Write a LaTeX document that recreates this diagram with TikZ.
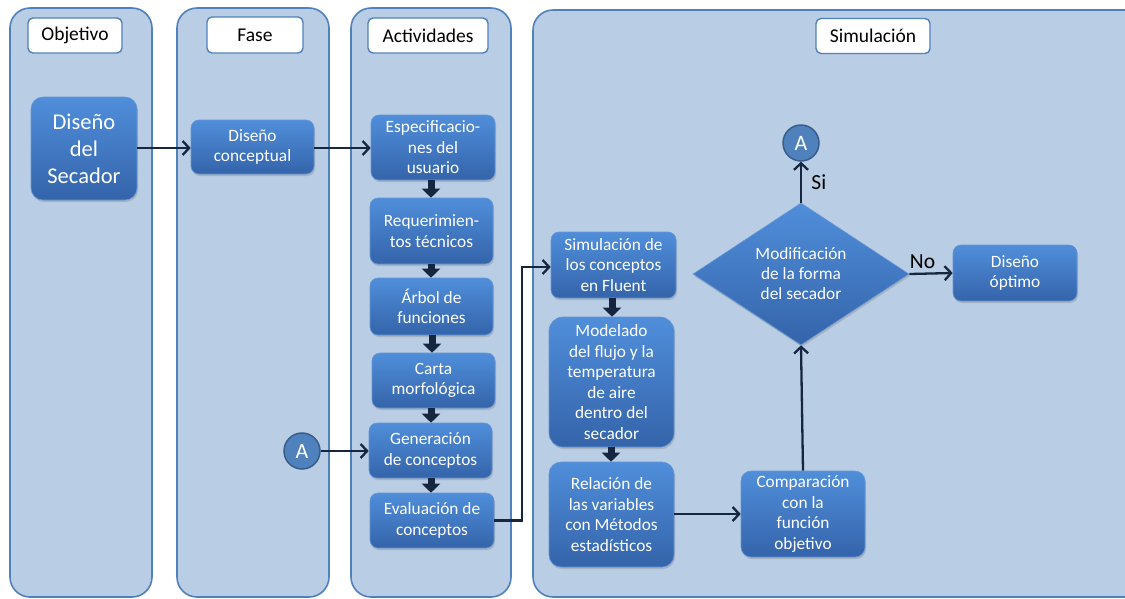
\documentclass[tikz,border=0pt]{standalone}
\usepackage{fontspec}
\setmainfont{Carlito}
\usetikzlibrary{arrows.meta,shapes.geometric,shadows,calc}
\definecolor{lanefill}{RGB}{185,205,228}
\definecolor{laneline}{RGB}{79,129,189}
\definecolor{boxtop}{RGB}{80,142,218}
\definecolor{boxbot}{RGB}{52,100,170}
\definecolor{boxline}{RGB}{100,150,215}
\definecolor{navy}{RGB}{23,38,64}
\definecolor{circfill}{RGB}{79,129,189}
\definecolor{circline}{RGB}{56,93,138}
\tikzset{
  lane/.style={fill=lanefill, draw=laneline, line width=1.6pt, rounded corners=20pt},
  head/.style={fill=white, draw=laneline, line width=1.4pt, rounded corners=5pt, inner sep=0pt, font=\fontsize{19.5}{22}\selectfont},
  bluebox/.style={rectangle, rounded corners=8pt, top color=boxtop, bottom color=boxbot, draw=boxline, line width=0.6pt,
    text=white, align=center, inner sep=2pt, font=\fontsize{17.3}{20.5}\selectfont,
    execute at begin node={\vspace*{4pt}},
    drop shadow={opacity=0.35, shadow xshift=1pt, shadow yshift=-2pt}},
  bigbox/.style={bluebox, rounded corners=12pt, font=\fontsize{22.5}{27}\selectfont},
  dec/.style={diamond, aspect=1.52, top color=boxtop, bottom color=boxbot, draw=boxline, line width=0.6pt,
    text=white, align=center, inner sep=0pt, font=\fontsize{17.3}{20}\selectfont,
    minimum width=216pt, minimum height=142pt,
    drop shadow={opacity=0.35, shadow xshift=1pt, shadow yshift=-2pt}},
  conn/.style={draw=navy, line width=2.3pt, -{Straight Barb[length=6.5pt,width=14pt,line width=2.3pt]}},
  blk/.style={draw=navy, line width=7pt, -{Triangle[width=18pt,length=9pt]}},
  circ/.style={circle, fill=circfill, draw=circline, line width=1.5pt, minimum size=36pt, inner sep=0pt,
    text=white, font=\fontsize{22}{24}\selectfont},
  lbl/.style={text=black, font=\fontsize{21.5}{24}\selectfont}
}
\begin{document}
\begin{tikzpicture}[x=1pt,y=-1pt]
\useasboundingbox (0,0) rectangle (1125,598);
\clip (0,0) rectangle (1125,598);
% lanes
\draw[lane] (10,8) rectangle (152,597);
\draw[lane] (177,8) rectangle (329,597);
\draw[lane] (351,8) rectangle (511,597);
\draw[lane] (533,10) rectangle (1160,597);
% headers
\node[head, minimum width=94pt, minimum height=35pt] (hobj) at (75,35.5) {Objetivo};
\node[head, minimum width=96pt, minimum height=36pt] (hfas) at (255,35) {Fase};
\node[head, minimum width=120pt, minimum height=35pt] (hact) at (428,35.5) {Actividades};
\node[head, minimum width=114pt, minimum height=35pt] (hsim) at (873,36) {Simulación};
% nodes
\node[bigbox, minimum width=106pt, minimum height=103pt] (sec) at (84,148.5) {Diseño\\del\\Secador};
\node[bluebox, minimum width=123pt, minimum height=54pt] (dc) at (252.5,147) {Diseño\\conceptual};
\node[bluebox, minimum width=124pt, minimum height=65pt] (esp) at (433,147.5) {Especificacio-\\nes del\\usuario};
\node[bluebox, minimum width=123pt, minimum height=66pt] (req) at (431.5,231) {Requerimien-\\tos técnicos};
\node[bluebox, minimum width=123pt, minimum height=57pt] (arb) at (431.5,306.5) {Árbol de\\funciones};
\node[bluebox, minimum width=123pt, minimum height=55pt] (car) at (433.5,380.5) {Carta\\morfológica};
\node[bluebox, minimum width=123pt, minimum height=55pt] (gen) at (430.5,450.5) {Generación\\de conceptos};
\node[bluebox, minimum width=124pt, minimum height=55pt] (eva) at (432,520.5) {Evaluación de\\conceptos};
\node[circ] (ain) at (302,451) {A};
\node[bluebox, minimum width=125pt, minimum height=66pt] (sim) at (613.5,265) {Simulación de\\los conceptos\\en Fluent};
\node[bluebox, minimum width=125pt, minimum height=130pt, rounded corners=14pt] (mod) at (611.5,382) {Modelado\\del flujo y la\\temperatura\\de aire\\dentro del\\secador};
\node[bluebox, minimum width=125pt, minimum height=105pt, rounded corners=12pt] (rel) at (611.5,514.5) {Relación de\\las variables\\con Métodos\\estadísticos};
\node[bluebox, minimum width=124pt, minimum height=86pt, rounded corners=10pt] (com) at (803,514) {Comparación\\con la\\función\\objetivo};
\node[dec] (dia) at (801,274) {Modificación\\de la forma\\del secador};
\node[circ] (atop) at (801,143) {A};
\node[bluebox, minimum width=124pt, minimum height=56pt] (opt) at (1015,273) {Diseño\\óptimo};
\coordinate (bend) at (522,0);
% connectors
\draw[conn] (sec.east |- 0,148) -- (dc.west |- 0,148);
\draw[conn] (dc.east |- 0,148) -- (esp.west |- 0,148);
\draw[conn] (ain.east) -- (gen.west |- ain.east);
\draw[conn] (eva.east) -- (eva.east -| bend) -- (bend |- 0,267) -- (sim.west |- 0,267);
\draw[conn] (rel.east |- 0,514) -- (com.west |- 0,514);
\draw[conn] (com.north) -- (dia.south);
\draw[conn] (dia.north) -- node[lbl, right, xshift=6pt, yshift=0pt] {Si} (atop.south);
\draw[conn] (dia.east) -- node[lbl, above, xshift=-2pt, yshift=1pt, pos=0.35] {No} (opt.west);
% block arrows
\draw[blk] (esp.south -| 431,0) -- (req.north -| 431,0);
\draw[blk] (req.south -| 431,0) -- (arb.north -| 431,0);
\draw[blk] (arb.south -| 432,0) -- (car.north -| 432,0);
\draw[blk] (car.south -| 431,0) -- (gen.north -| 431,0);
\draw[blk] (gen.south -| 431,0) -- (eva.north -| 431,0);
\draw[blk] (sim.south -| 612,0) -- (mod.north -| 612,0);
\draw[blk] (mod.south -| 611,0) -- (rel.north -| 611,0);
\end{tikzpicture}
\end{document}
